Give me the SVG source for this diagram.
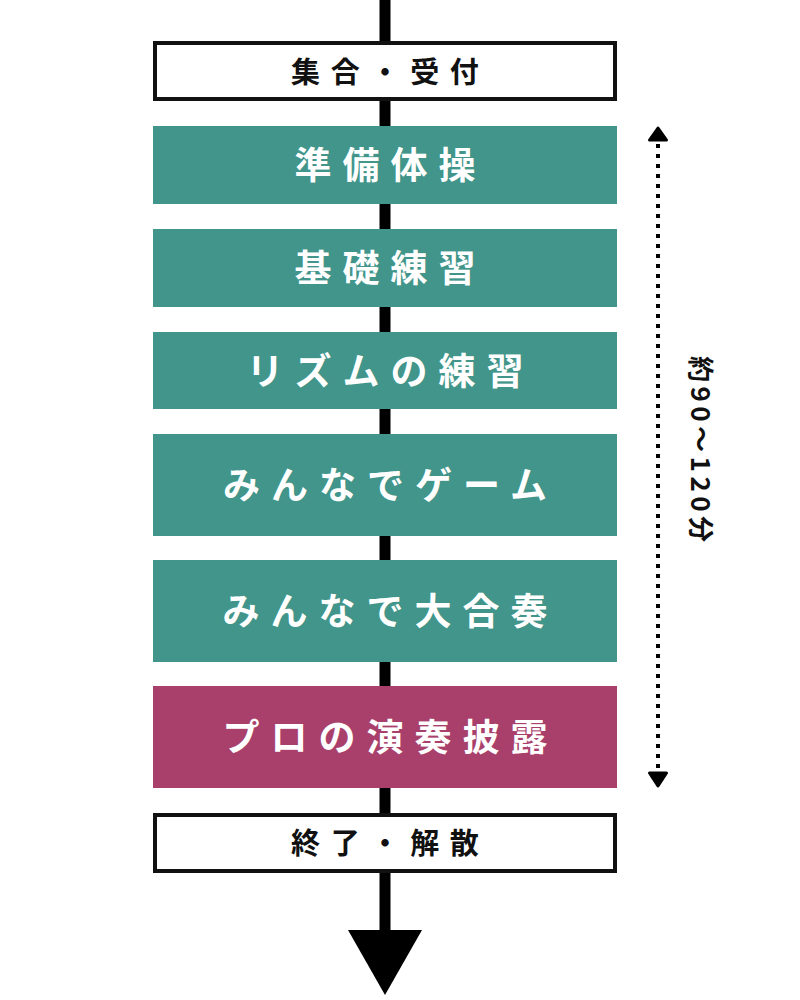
<svg xmlns="http://www.w3.org/2000/svg" width="800" height="1000" viewBox="0 0 800 1000">
  <style>
    .t { font-family: "Noto Sans CJK JP", "Noto Sans", sans-serif; font-weight: 700; text-anchor: middle; }
    .w { fill: #ffffff; font-size: 37px; letter-spacing: 11px; }
    .b { fill: #111111; font-size: 29px; letter-spacing: 10.7px; }
    .teal { fill: #41958a; }
    .mag { fill: #a9406b; }
    .plain { fill: #ffffff; stroke: #111111; stroke-width: 4; }
  </style>
  <rect width="800" height="1000" fill="#ffffff"/>
  <g id="connectors">
    <rect x="379.5" y="0" width="11" height="935" fill="#000000"/>
    <polygon points="348,930 422,930 385,995" fill="#000000"/>
    <line x1="658" y1="144" x2="658" y2="770" stroke="#000000" stroke-width="4" stroke-dasharray="4 6"/>
    <polygon points="649.5,140 666.5,140 658,128" fill="#000000" stroke="#000000" stroke-width="3" stroke-linejoin="round"/>
    <polygon points="649.5,773 666.5,773 658,786" fill="#000000" stroke="#000000" stroke-width="3" stroke-linejoin="round"/>
  </g>
  <g id="n1">
    <rect class="plain" x="155" y="43" width="460" height="56"/>
    <text class="t b" x="390.3" y="83">集合・受付</text>
  </g>
  <g id="n2">
    <rect class="teal" x="153" y="126" width="464" height="78"/>
    <text class="t w" x="390.5" y="179">準備体操</text>
  </g>
  <g id="n3">
    <rect class="teal" x="153" y="229" width="464" height="78"/>
    <text class="t w" x="390.5" y="282">基礎練習</text>
  </g>
  <g id="n4">
    <rect class="teal" x="153" y="332" width="464" height="77"/>
    <text class="t w" x="390.5" y="385">リズムの練習</text>
  </g>
  <g id="n5">
    <rect class="teal" x="153" y="434" width="464" height="102"/>
    <text class="t w" x="390.5" y="499">みんなでゲーム</text>
  </g>
  <g id="n6">
    <rect class="teal" x="153" y="560" width="464" height="102"/>
    <text class="t w" x="390.5" y="625">みんなで大合奏</text>
  </g>
  <g id="n7">
    <rect class="mag" x="153" y="686" width="464" height="102"/>
    <text class="t w" x="390.5" y="751">プロの演奏披露</text>
  </g>
  <g id="n8">
    <rect class="plain" x="155" y="815" width="460" height="56"/>
    <text class="t b" x="390.3" y="854">終了・解散</text>
  </g>
  <g id="duration">
    <text class="t" transform="translate(691,449) rotate(90)" x="2.25" y="0" font-size="26" letter-spacing="4.5" fill="#111111">約90〜120分</text>
  </g>
</svg>
